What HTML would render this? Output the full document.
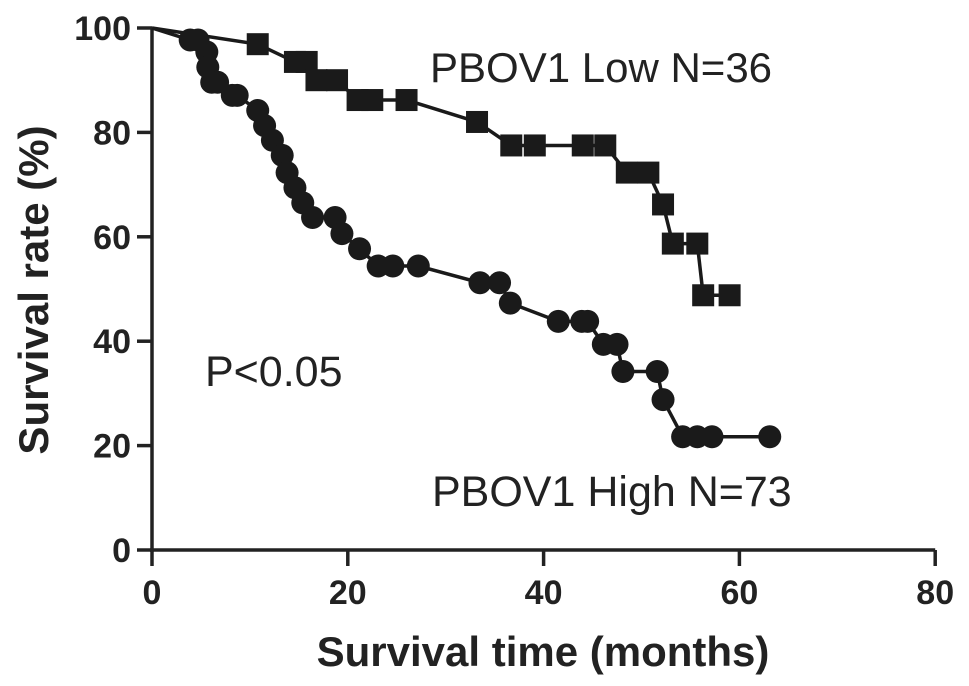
<!DOCTYPE html>
<html><head><meta charset="utf-8"><style>
body{margin:0;background:#fff;}
svg{display:block;font-family:"Liberation Sans",Arial,sans-serif;}
</style></head><body>
<svg id="chart" width="969" height="686" viewBox="0 0 969 686" xmlns="http://www.w3.org/2000/svg">
<g id="axes"></g>
<g id="series"></g>
<text x="430" y="82" font-size="42" fill="#222">PBOV1 Low N=36</text>
<text x="432" y="506" font-size="43" fill="#222">PBOV1 High N=73</text>
<text x="205" y="386" font-size="43" fill="#222">P&lt;0.05</text>
<text x="543" y="666" font-size="42" font-weight="bold" text-anchor="middle" fill="#222">Survival time (months)</text>
<text transform="translate(48,290) rotate(-90)" font-size="42" font-weight="bold" text-anchor="middle" fill="#222">Survival rate (%)</text>
</svg>
<script>
const xTicks=[0,20,40,60,80];
const yTicks=[0,20,40,60,80,100];
const lowMonths=[0,10.8,14.6,15.8,16.8,18.9,21,22.5,26,33.2,36.7,39.1,44,46.3,48.5,50.7,52.2,53.2,55.7,56.3,59];
const lowRates=[100,96.9,93.5,93.5,90,90,86.2,86.2,86.2,82,77.5,77.5,77.5,77.5,72.3,72.3,66.2,58.7,58.7,48.8,48.8];
const highMonths=[0,3.9,4.7,5.6,5.7,6.1,6.7,8.2,8.7,10.8,11.5,12.3,13.3,13.8,14.6,15.4,16.4,18.7,19.4,21.2,23.1,24.6,27.2,33.5,35.5,36.6,41.5,43.9,44.5,46.1,47.5,48.1,51.6,52.2,54.2,55.7,57.2,63.1];
const highRates=[100,97.7,97.7,95.4,92.5,89.6,89.6,87.1,87.1,84.2,81.3,78.5,75.6,72.3,69.4,66.5,63.7,63.7,60.6,57.7,54.4,54.4,54.4,51.2,51.2,47.3,43.8,43.8,43.8,39.4,39.4,34.2,34.2,28.8,21.7,21.7,21.7,21.7];
const NS="http://www.w3.org/2000/svg";
const X=m=>152+m*9.79;
const Y=p=>550-p*5.22;
function el(t,a,parent){const e=document.createElementNS(NS,t);for(const k in a)e.setAttribute(k,a[k]);parent.appendChild(e);return e;}
const axes=document.getElementById('axes');
let e=el('line',{x1:152,y1:Y(100),x2:152,y2:552,stroke:'#222','stroke-width':3.5},axes);


e=el('line',{x1:150,y1:550,x2:X(80),y2:550,stroke:'#222','stroke-width':3.5},axes);


yTicks.forEach(v=>{
 const t=el('line',{x1:137,y1:Y(v),x2:152,y2:Y(v),stroke:'#222','stroke-width':3.5},axes);
 
 
 const l=el('text',{x:131,y:Y(v)+12,'font-size':34,'font-weight':'bold','text-anchor':'end',fill:'#222'},axes);
 l.textContent=v;
 
 
});
xTicks.forEach(v=>{
 const t=el('line',{x1:X(v),y1:550,x2:X(v),y2:566,stroke:'#222','stroke-width':3.5},axes);
 
 
 const l=el('text',{x:X(v),y:604,'font-size':34,'font-weight':'bold','text-anchor':'middle',fill:'#222'},axes);
 l.textContent=v;
 
 
});
const g=document.getElementById('series');
function series(ms,rs,shape,name){
 const pl=el('polyline',{points:ms.map((m,i)=>X(m)+','+Y(rs[i])).join(' '),fill:'none',stroke:'#1a1a1a','stroke-width':3.5},g);
 
 
 ms.forEach((m,i)=>{
  if(i===0)return;
  let mk;
  if(shape==='square') mk=el('rect',{x:X(m)-11,y:Y(rs[i])-11,width:22,height:22,fill:'#1a1a1a'},g);
  else mk=el('circle',{cx:X(m),cy:Y(rs[i]),r:11.5,fill:'#1a1a1a'},g);
  
  
 });
}
series(lowMonths,lowRates,'square','low-series');
series(highMonths,highRates,'circle','high-series');
</script>
</body></html>
